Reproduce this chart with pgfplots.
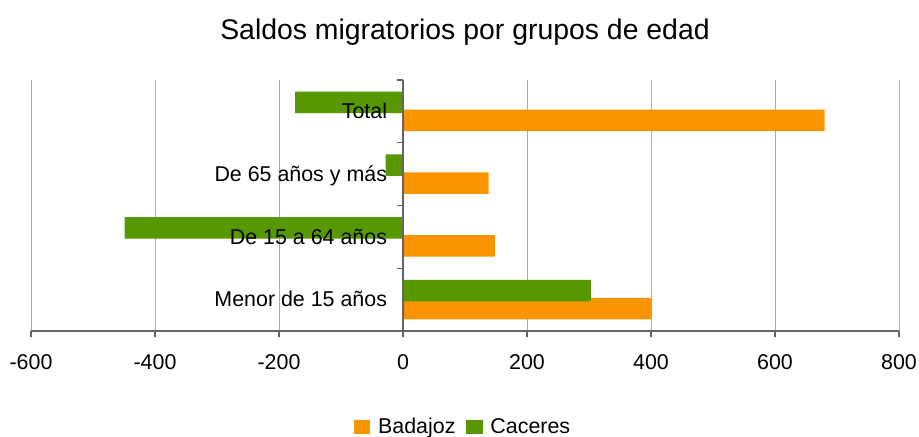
\documentclass[border=0pt]{standalone}
\usepackage{pgfplots}
\pgfplotsset{compat=1.18}
\usepackage{fontspec}
\setmainfont{Liberation Sans}
\definecolor{bad}{RGB}{248,148,0}
\definecolor{cac}{RGB}{87,152,0}
\definecolor{gridc}{RGB}{170,170,170}
\definecolor{axc}{RGB}{100,100,100}
\pgfplotsset{
  /pgfplots/layers/mylayers/.define layer set={
    axis background,axis grid,main,axis ticks,axis lines,axis tick labels,axis descriptions,axis foreground
  }{/pgfplots/layers/standard},
}
\begin{document}
\begin{tikzpicture}
\begin{axis}[
  set layers=mylayers,
  at={(15.5pt,52.5pt)}, anchor=south west,
  scale only axis, width=434pt, height=125.5pt,
  xbar, bar width=10.75pt,
  xmin=-600, xmax=800, ymin=-0.5, ymax=3.5,
  xtick={-600,-400,...,800},
  ytick={-0.5,0.5,1.5,2.5,3.5}, yticklabels={},
  extra y ticks={0,1,2,3},
  extra y tick labels={Menor de 15 años, De 15 a 64 años, De 65 años y más, Total},
  extra y tick style={tick style={draw=none}},
  axis x line*=bottom, axis y line*=middle,
  axis line style={draw=axc, line width=0.6pt},
  tick style={draw=axc, line width=0.6pt},
  tick align=outside, major tick length=3pt,
  xmajorgrids, grid style={draw=gridc, line width=0.5pt},
  /pgf/number format/assume math mode=true,
  tick label style={font=\fontsize{10.7}{12}\selectfont},
  xticklabel style={anchor=north, inner sep=0pt, yshift=-8.5pt},
  yticklabel style={anchor=base east, inner sep=0pt, yshift=-0.36em, xshift=-4.8pt},
  title={Saldos migratorios por grupos de edad},
  title style={at={(0.5,1)}, anchor=base, yshift=14.5pt, inner sep=0pt, font=\fontsize{14.2}{17}\selectfont},
  legend style={at={(0.5,0)}, anchor=south, xshift=-1.5pt, yshift=-53.15pt, draw=none, fill=none,
    legend columns=-1, inner sep=0pt, font=\fontsize{10.7}{12}\selectfont,
    nodes={inner sep=0pt}, cells={anchor=base west},
    /tikz/every even column/.append style={column sep=5.35pt}},
  legend image code/.code={\fill[#1] (0pt,-0.2pt) rectangle (8.3pt,7.2pt); \path (12.15pt,0pt);},
]
\addplot[fill=bad, draw=none, bar shift=-4.5pt] coordinates {(400,0) (148,1) (138,2) (680,3)};
\addplot[fill=cac, draw=none, bar shift=4.5pt] coordinates {(303,0) (-449,1) (-28,2) (-174,3)};
\legend{Badajoz, Caceres}
\end{axis}
\pgfresetboundingbox
\path[use as bounding box] (0,0) rectangle (459.5pt,218pt);
\end{tikzpicture}
\end{document}
